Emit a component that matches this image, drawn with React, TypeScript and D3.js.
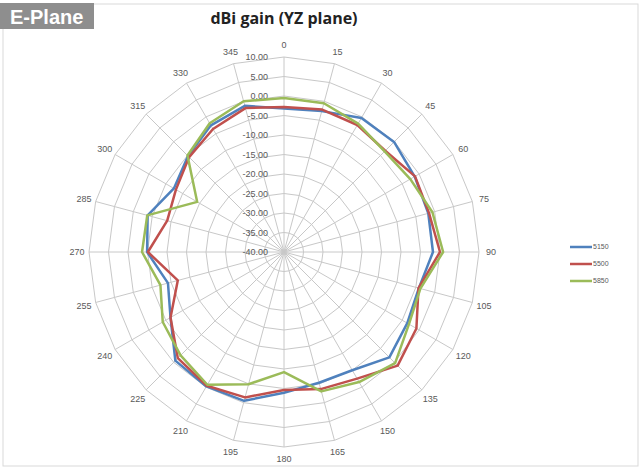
import React from 'react';
import * as d3 from 'd3';

const angles = [0, 15, 30, 45, 60, 75, 90, 105, 120, 135, 150, 165, 180, 195, 210, 225, 240, 255, 270, 285, 300, 315, 330, 345];
const ticks = [10, 5, 0, -5, -10, -15, -20, -25, -30, -35, -40];
const seriesNames = ['5150', '5500', '5850'];
const seriesColors = ['#4f81bd', '#c0504d', '#9bbb59'];

const s5150 = [-3.2, -2.6, -0.3, -0.1, -1.3, -1.7, -1.8, -4.2, -3.5, -1.8, -5.0, -5.3, -3.9, -0.5, -0.2, -0.6, -6.4, -9.2, -4.9, -3.8, -7.4, -5.2, -2.5, -1.2];
const s5500 = [-2.8, -2.2, -2.4, -3.3, -1.2, -1.5, 0.0, -4.3, -0.8, 1.2, -2.5, -3.6, -4.6, -1.4, -0.4, -1.5, -6.4, -11.8, -5.1, -9.0, -8.0, -5.6, -3.6, -1.8];
const s5850 = [-0.5, -0.5, -2.0, -3.5, -2.6, -0.6, 0.8, -3.8, -3.0, 0.3, -1.5, -3.0, -9.2, -4.9, -0.7, -2.5, -4.1, -7.2, -3.6, -3.7, -14.3, -5.0, -1.9, 0.0];
const seriesValues = [s5150, s5500, s5850];

const W = 642;
const H = 468;
const cx = 284;
const cy = 252;
const R = 195;

const App: React.FC = () => {
  const r = d3.scaleLinear().domain([-40, 10]).range([0, R]);
  const a = (deg: number) => (deg * Math.PI) / 180;

  const ring = d3.lineRadial<number>()
    .angle(d => a(d))
    .curve(d3.curveLinearClosed);

  const series = d3.lineRadial<number>()
    .angle((_, i) => a(angles[i]))
    .radius(d => r(d))
    .curve(d3.curveLinearClosed);

  const labelFont = '"Liberation Sans", Arial, sans-serif';

  return (
    <svg width={W} height={H} style={{ position: 'absolute', left: 0, top: 0, background: '#fff' }}>
      <rect x={3} y={4} width={635} height={462} fill="none" stroke="#d9d9d9" />
      <rect x={0} y={3} width={94} height={26} fill="#8e8e8e" />
      <text x={10} y={24} fill="#fff" fontFamily={labelFont} fontWeight="bold" fontSize={20}>E-Plane</text>

      <text x={cx} y={24} textAnchor="middle" fill="#222" fontFamily='"Open Sans", sans-serif' fontWeight="bold" fontSize={16}>
        dBi gain (YZ plane)
      </text>

      <g transform={`translate(${cx},${cy})`}>
        {ticks.filter(t => t > -40).map(t => (
          <path key={t} d={ring.radius(() => r(t))(angles) || ''} fill="none" stroke="#c8c8c8" strokeWidth={1} />
        ))}
        {angles.map(d => (
          <line key={d} x1={0} y1={0}
            x2={r(10) * Math.sin(a(d))} y2={-r(10) * Math.cos(a(d))}
            stroke="#c8c8c8" strokeWidth={1} />
        ))}

        {ticks.map(t => (
          <text key={t} x={-16} y={-r(t)} dy="0.35em" textAnchor="end" fill="#595959" fontFamily={labelFont} fontSize={9}>
            {t.toFixed(2)}
          </text>
        ))}

        {angles.map(d => (
          <text key={d} x={207 * Math.sin(a(d))} y={-207 * Math.cos(a(d))} dy="0.35em" textAnchor="middle" fill="#595959" fontFamily={labelFont} fontSize={9}>
            {d}
          </text>
        ))}

        {seriesValues.map((vals, i) => (
          <path key={seriesNames[i]} d={series(vals) || ''} fill="none" stroke={seriesColors[i]} strokeWidth={2.5} strokeLinejoin="round" />
        ))}
      </g>

      {seriesNames.map((name, i) => (
        <g key={name} transform={`translate(570,${247 + i * 17})`}>
          <line x1={0} x2={22} y1={0} y2={0} stroke={seriesColors[i]} strokeWidth={2.5} />
          <text x={23} y={0} dy="0.35em" fill="#595959" fontFamily={labelFont} fontSize={7}>{name}</text>
        </g>
      ))}
    </svg>
  );
};

export default App;
